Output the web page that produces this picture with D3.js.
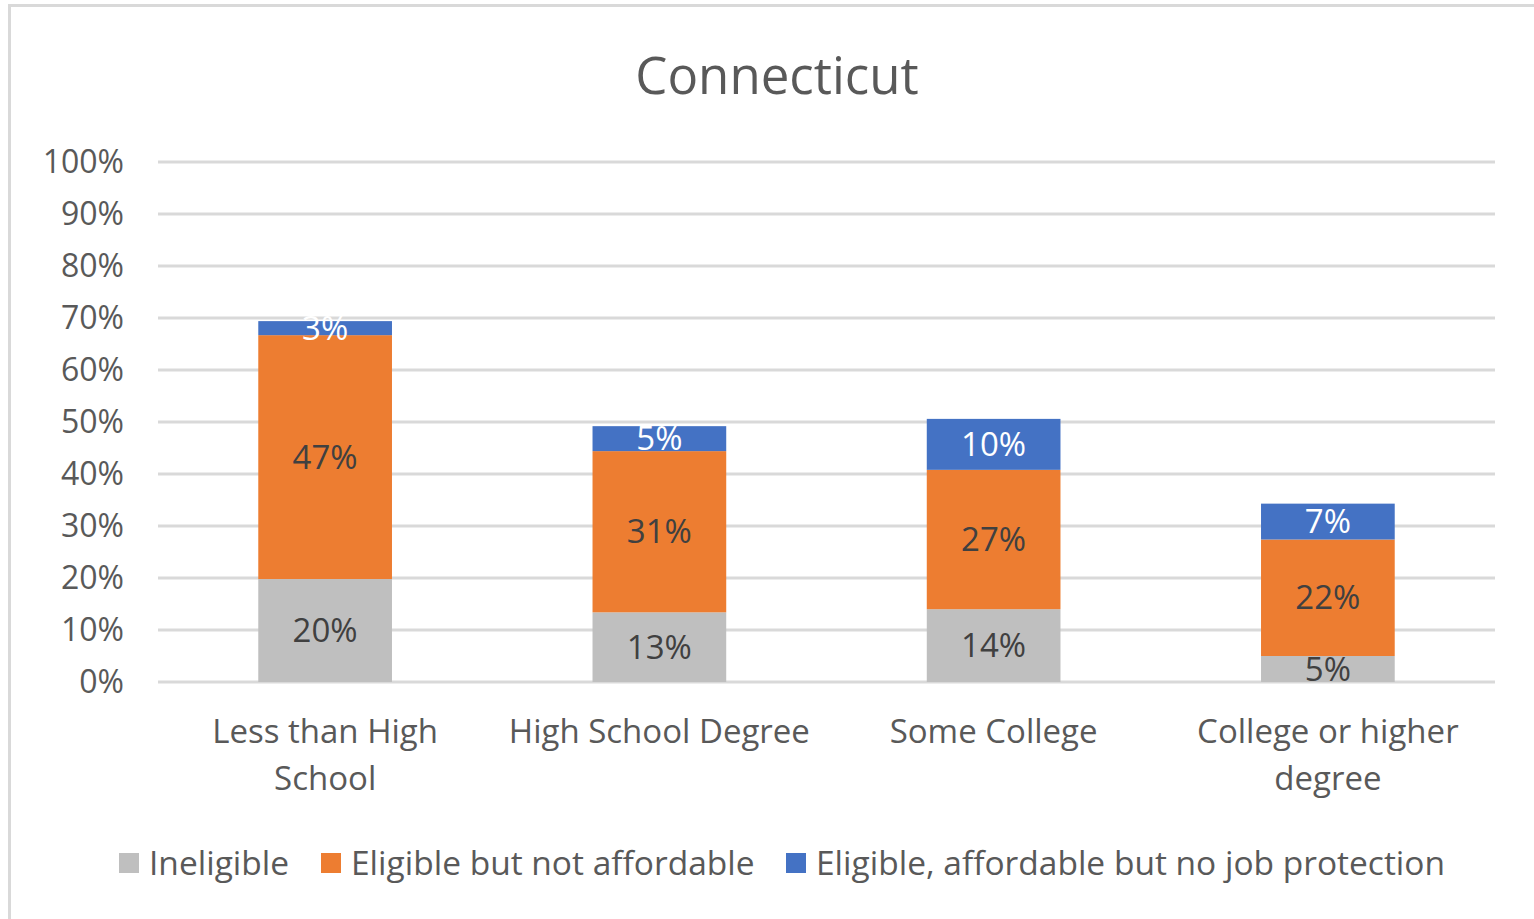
<!DOCTYPE html>
<html>
<head>
<meta charset="utf-8">
<script src="https://cdn.jsdelivr.net/npm/d3@7"></script>
<style>
  body { margin: 0; background: #fff; }
  svg { display: block; font-family: "Open Sans", Lato, sans-serif; }
</style>
</head>
<body>
<svg id="viz" width="1534" height="919"></svg>
<script>
// chart data
const categories = [["Less than High", "School"], ["High School Degree"], ["Some College"], ["College or higher", "degree"]];
const seriesNames = ["Ineligible", "Eligible but not affordable", "Eligible, affordable but no job protection"];
const ineligible = [19.8, 13.4, 14.0, 5.0];
const notAffordable = [46.9, 31.0, 26.8, 22.4];
const noProtection = [2.7, 4.8, 9.8, 6.9];
const yTicks = [0, 10, 20, 30, 40, 50, 60, 70, 80, 90, 100];
const colors = ["#bfbfbf", "#ed7d31", "#4472c4"];
const labelColors = ["#404040", "#404040", "#ffffff"];

window.onload = () => {
  const svg = d3.select("#viz");
  const margin = { left: 158, right: 1495, top: 162, bottom: 682 };

  // chart frame
  svg.append("rect")
    .attr("x", 9.5).attr("y", 5.5)
    .attr("width", 1540).attr("height", 930)
    .attr("fill", "#fff").attr("stroke", "#d9d9d9").attr("stroke-width", 3);

  const keys = categories.map((c) => c.join(" "));
  const x = d3.scaleBand().domain(keys).range([margin.left, margin.right]).paddingInner(0.6).paddingOuter(0.3);
  const y = d3.scaleLinear().domain([0, 100]).range([margin.bottom, margin.top]);

  // gridlines
  svg.append("g").selectAll("line").data(yTicks).join("line")
    .attr("x1", margin.left).attr("x2", margin.right)
    .attr("y1", (d) => y(d)).attr("y2", (d) => y(d))
    .attr("stroke", "#d9d9d9").attr("stroke-width", 3);

  // y tick labels
  svg.append("g").selectAll("text").data(yTicks).join("text")
    .attr("x", 124).attr("y", (d) => y(d))
    .attr("dy", "0.35em").attr("text-anchor", "end")
    .attr("font-size", 32).attr("fill", "#595959")
    .text((d) => d + "%");

  // stacked data
  const rows = keys.map((k, i) => ({ key: k, s0: ineligible[i], s1: notAffordable[i], s2: noProtection[i] }));
  const stack = d3.stack().keys(["s0", "s1", "s2"])(rows);

  const layers = svg.append("g").selectAll("g").data(stack).join("g")
    .attr("fill", (d, i) => colors[i]);

  layers.selectAll("rect").data((d) => d).join("rect")
    .attr("x", (d) => x(d.data.key))
    .attr("width", x.bandwidth())
    .attr("y", (d) => y(d[1]))
    .attr("height", (d) => y(d[0]) - y(d[1]));

  // data labels
  stack.forEach((layer, i) => {
    svg.append("g").selectAll("text").data(layer).join("text")
      .attr("x", (d) => x(d.data.key) + x.bandwidth() / 2)
      .attr("y", (d) => (y(d[0]) + y(d[1])) / 2)
      .attr("dy", "0.35em").attr("text-anchor", "middle")
      .attr("font-size", 33).attr("fill", labelColors[i])
      .text((d) => Math.round(d[1] - d[0]) + "%");
  });

  // category labels
  const cat = svg.append("g").selectAll("text").data(categories).join("text")
    .attr("x", (d, i) => x(keys[i]) + x.bandwidth() / 2)
    .attr("y", 743)
    .attr("text-anchor", "middle")
    .attr("font-size", 33).attr("fill", "#595959");
  cat.selectAll("tspan").data((d) => d).join("tspan")
    .attr("x", function () { return d3.select(this.parentNode).attr("x"); })
    .attr("dy", (d, j) => (j === 0 ? 0 : 47))
    .text((d) => d);

  // title
  svg.append("text")
    .attr("x", 777).attr("y", 94)
    .attr("text-anchor", "middle")
    .attr("font-size", 51).attr("fill", "#595959")
    .text("Connecticut");

  // legend
  const legend = svg.append("g");
  const legendX = [119, 321, 786];
  seriesNames.forEach((name, i) => {
    legend.append("rect")
      .attr("x", legendX[i]).attr("y", 853)
      .attr("width", 20).attr("height", 20)
      .attr("fill", colors[i]);
    legend.append("text")
      .attr("x", legendX[i] + 30).attr("y", 863)
      .attr("dy", "0.35em")
      .attr("font-size", 33.5).attr("fill", "#595959")
      .text(name);
  });
};
</script>
</body>
</html>
